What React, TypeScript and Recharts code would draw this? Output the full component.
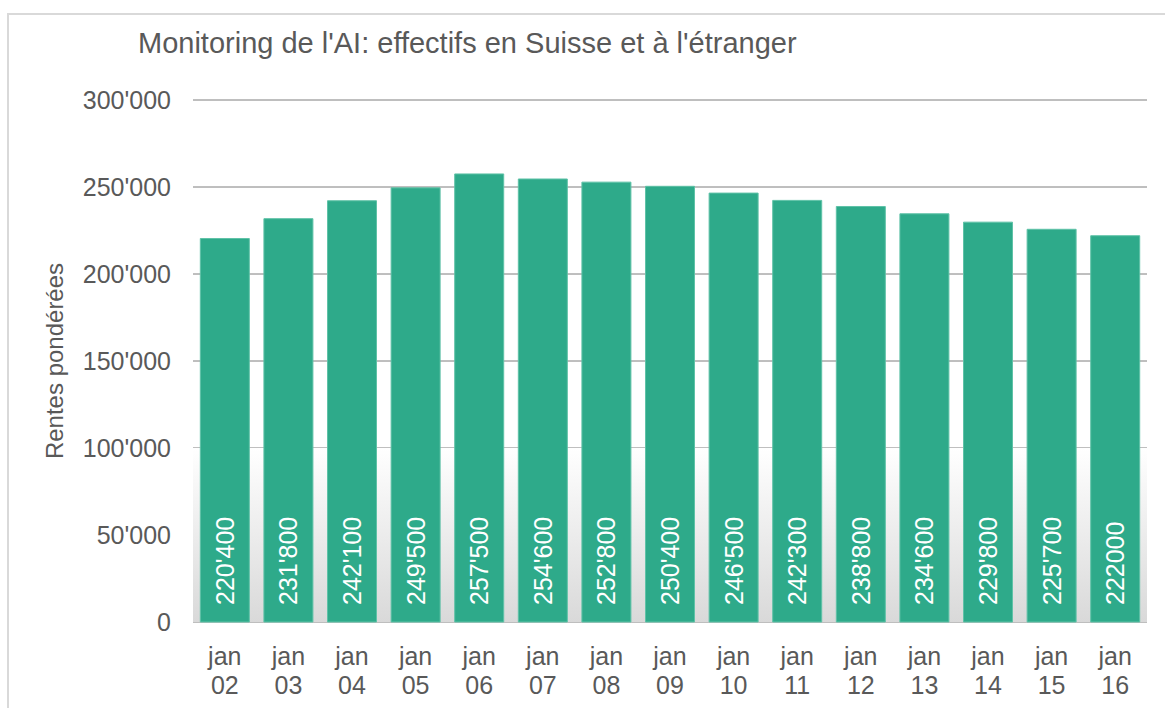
import React from "react";
import {
  BarChart,
  Bar,
  XAxis,
  YAxis,
  CartesianGrid,
  ReferenceArea,
  LabelList,
} from "recharts";

const months = ["02", "03", "04", "05", "06", "07", "08", "09", "10", "11", "12", "13", "14", "15", "16"];
const rentes = [220400, 231800, 242100, 249500, 257500, 254600, 252800, 250400, 246500, 242300, 238800, 234600, 229800, 225700, 222000];
const valueLabels = ["220'400", "231'800", "242'100", "249'500", "257'500", "254'600", "252'800", "250'400", "246'500", "242'300", "238'800", "234'600", "229'800", "225'700", "222000"];
const yTicks = [0, 50000, 100000, 150000, 200000, 250000, 300000];

const data = months.map((m, i) => ({ month: m, value: rentes[i], label: valueLabels[i] }));

const FONT = "'Liberation Sans', Arial, sans-serif";
const TEXT = "#595959";
const GREEN = "#2eaa8a";

function formatY(v: number): string {
  return v.toString().replace(/\B(?=(\d{3})+(?!\d))/g, "'");
}

// two-line x tick: "jan" over the year
// eslint-disable-next-line @typescript-eslint/no-explicit-any
function MonthTick({ x, y, payload }: any) {
  return (
    <text x={x} y={y} textAnchor="middle" fill={TEXT} fontSize={25} fontFamily={FONT}>
      <tspan x={x} dy={35}>jan</tspan>
      <tspan x={x} dy={29}>{payload.value}</tspan>
    </text>
  );
}

// eslint-disable-next-line @typescript-eslint/no-explicit-any
function InsideLabel({ x, y, width, height, value }: any) {
  const cx = x + width / 2;
  const by = y + height - 17;
  return (
    <text
      x={cx}
      y={by}
      transform={`rotate(-90 ${cx} ${by})`}
      textAnchor="start"
      dominantBaseline="central"
      fill="#ffffff"
      fontSize={25}
      fontFamily={FONT}
    >
      {value}
    </text>
  );
}

export default function App() {
  return (
    <div style={{ position: "absolute", left: 0, top: 0, width: 1165, height: 708, background: "#fff", overflow: "hidden" }}>
      <div
        style={{
          position: "absolute",
          left: 7,
          top: 13,
          width: 1170,
          height: 710,
          borderLeft: "2px solid #d9d9d9",
          borderTop: "2px solid #d9d9d9",
        }}
      />
      <div
        style={{
          position: "absolute",
          left: 138,
          top: 27,
          fontFamily: FONT,
          fontSize: 29,
          color: TEXT,
          whiteSpace: "nowrap",
        }}
      >
        Monitoring de l'AI: effectifs en Suisse et à l'étranger
      </div>
      <div
        style={{
          position: "absolute",
          left: 55,
          top: 361,
          transform: "translate(-50%, -50%) rotate(-90deg)",
          fontFamily: FONT,
          fontSize: 24,
          color: TEXT,
          whiteSpace: "nowrap",
        }}
      >
        Rentes pondérées
      </div>
      <BarChart
        width={1165}
        height={708}
        data={data}
        margin={{ top: 100, right: 18, left: 0, bottom: 0 }}
        barCategoryGap="11.5%"
        style={{ position: "absolute", left: 0, top: 0 }}
      >
        <defs>
          <linearGradient id="plotFade" x1="0" y1="0" x2="0" y2="1">
            <stop offset="0%" stopColor="#ffffff" />
            <stop offset="100%" stopColor="#d9d9d9" />
          </linearGradient>
        </defs>
        <ReferenceArea y1={0} y2={100000} fill="url(#plotFade)" fillOpacity={1} stroke="none" ifOverflow="hidden" />
        <CartesianGrid vertical={false} stroke="#7f7f7f" strokeWidth={1} />
        <XAxis
          dataKey="month"
          height={86}
          axisLine={false}
          tickLine={false}
          tick={<MonthTick />}
          interval={0}
        />
        <YAxis
          width={193}
          domain={[0, 300000]}
          ticks={yTicks}
          tickFormatter={formatY}
          axisLine={false}
          tickLine={false}
          tickMargin={16}
          tick={{ fill: TEXT, fontSize: 25, fontFamily: FONT }}
        />
        <Bar dataKey="value" fill={GREEN} stroke="#5fc2a7" strokeWidth={1} isAnimationActive={false}>
          <LabelList dataKey="label" content={<InsideLabel />} />
        </Bar>
      </BarChart>
    </div>
  );
}
